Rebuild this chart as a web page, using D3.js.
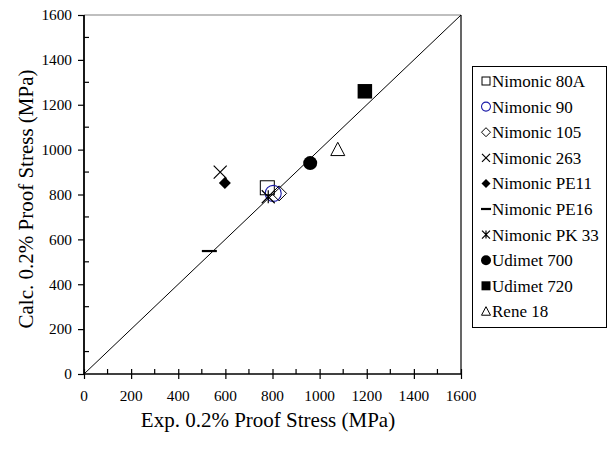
<!DOCTYPE html>
<html>
<head>
<meta charset="utf-8">
<script src="https://cdn.jsdelivr.net/npm/d3@7"></script>
<style>
  html, body { margin: 0; padding: 0; background: #fff; }
  svg { display: block; }
  text { font-family: "Liberation Serif", "Times New Roman", serif; fill: #000; }
</style>
</head>
<body>
<svg id="chart" width="608" height="452"></svg>
<script>
// ---- data ----
const seriesNames = ["Nimonic 80A", "Nimonic 90", "Nimonic 105", "Nimonic 263", "Nimonic PE11",
                     "Nimonic PE16", "Nimonic PK 33", "Udimet 700", "Udimet 720", "Rene 18"];
const expValues  = [778, 803, 828, 578, 598, 532, 782, 960, 1192, 1077];
const calcValues = [830, 805, 805, 900, 851, 548, 790, 940, 1260, 1000];
const markerTypes = ["openSquare", "blueCircle", "openDiamond", "cross", "filledDiamond",
                     "dash", "asterisk", "filledCircle", "filledSquare", "openTriangle"];
const axisTicks = [0, 200, 400, 600, 800, 1000, 1200, 1400, 1600];
const minorTicks = [100, 300, 500, 700, 900, 1100, 1300, 1500];
const diagonal = [[0, 0], [1600, 1600]];

// ---- layout ----
const FONT = "Liberation Serif, Times New Roman, serif";
const svg = d3.select("#chart");
const pL = 84, pR = 461, pT = 15, pB = 374;
const x = d3.scaleLinear().domain([0, 1600]).range([pL, pR]);
const y = d3.scaleLinear().domain([0, 1600]).range([pB, pT]);

// frame: top (gray) and right
svg.append("line").attr("x1", pL).attr("x2", pR).attr("y1", pT).attr("y2", pT)
  .attr("stroke", "#808080").attr("stroke-width", 1.2);
svg.append("line").attr("x1", pR).attr("x2", pR).attr("y1", pT).attr("y2", pB)
  .attr("stroke", "#000").attr("stroke-width", 1.2);

// diagonal
svg.append("path").datum(diagonal)
  .attr("d", d3.line().x(d => x(d[0])).y(d => y(d[1])))
  .attr("stroke", "#000").attr("stroke-width", 1).attr("fill", "none");

// x axis: major ticks cross, minor up
const gx = svg.append("g").attr("transform", `translate(0,${pB})`);
gx.call(d3.axisBottom(x).tickValues(axisTicks).tickSize(5).tickFormat(""));
gx.call(g => g.selectAll(".tick line").attr("y1", -5).attr("y2", 5).attr("stroke-width", 1.2));
gx.append("g").selectAll("line").data(minorTicks).join("line")
  .attr("x1", d => x(d)).attr("x2", d => x(d)).attr("y1", 0).attr("y2", -5)
  .attr("stroke", "#000").attr("stroke-width", 1.2);
gx.select(".domain").attr("d", `M${pL},0H${pR}`).attr("stroke-width", 1.6);
gx.selectAll(".tickLbl").data(axisTicks).join("text")
  .attr("x", d => x(d)).attr("y", 27).attr("text-anchor", "middle")
  .attr("font-family", FONT).attr("font-size", "15.3px").text(d => d);

// y axis: major ticks out, minor in
const gy = svg.append("g").attr("transform", `translate(${pL},0)`);
gy.call(d3.axisLeft(y).tickValues(axisTicks).tickSize(6).tickFormat(""));
gy.call(g => g.selectAll(".tick line").attr("stroke-width", 1.2));
gy.append("g").selectAll("line").data(minorTicks).join("line")
  .attr("x1", 0).attr("x2", 5).attr("y1", d => y(d)).attr("y2", d => y(d))
  .attr("stroke", "#000").attr("stroke-width", 1.2);
gy.select(".domain").attr("d", `M0,${pB}V${pT}`).attr("stroke-width", 1.8);
gy.selectAll(".tickLbl").data(axisTicks).join("text")
  .attr("x", -12).attr("y", d => y(d)).attr("dy", "0.35em").attr("text-anchor", "end")
  .attr("font-family", FONT).attr("font-size", "15.3px").text(d => d);

// axis titles
svg.append("text").attr("x", 268).attr("y", 427).attr("text-anchor", "middle")
  .attr("font-family", FONT).attr("font-size", "21px").text("Exp. 0.2% Proof Stress (MPa)");
svg.append("text").attr("transform", `translate(33,199) rotate(-90)`)
  .attr("text-anchor", "middle").attr("font-family", FONT).attr("font-size", "21px")
  .text("Calc. 0.2% Proof Stress (MPa)");

// ---- markers ----
function drawMarker(g, type, s) {
  const h = s / 2;
  switch (type) {
    case "openSquare":
      g.append("rect").attr("x", -h).attr("y", -h).attr("width", s).attr("height", s)
        .attr("fill", "none").attr("stroke", "#000").attr("stroke-width", 1); break;
    case "filledSquare":
      g.append("rect").attr("x", -h).attr("y", -h).attr("width", s).attr("height", s)
        .attr("fill", "#000"); break;
    case "blueCircle":
      g.append("circle").attr("r", h).attr("fill", "none").attr("stroke", "#1c1ca8").attr("stroke-width", 1.1); break;
    case "filledCircle":
      g.append("circle").attr("r", h).attr("fill", "#000"); break;
    case "openDiamond":
      g.append("path").attr("d", `M0,${-h}L${h},0L0,${h}L${-h},0Z`)
        .attr("fill", "none").attr("stroke", "#000").attr("stroke-width", 1); break;
    case "filledDiamond":
      g.append("path").attr("d", `M0,${-h}L${h},0L0,${h}L${-h},0Z`).attr("fill", "#000"); break;
    case "cross":
      g.append("path").attr("d", `M${-h},${-h}L${h},${h}M${h},${-h}L${-h},${h}`)
        .attr("stroke", "#000").attr("stroke-width", 1.2); break;
    case "asterisk":
      g.append("path").attr("d", `M${-h},${-h}L${h},${h}M${h},${-h}L${-h},${h}M0,${-h}L0,${h}`)
        .attr("stroke", "#000").attr("stroke-width", 1.2); break;
    case "dash":
      g.append("line").attr("x1", -h).attr("x2", h).attr("stroke", "#000").attr("stroke-width", 2.2); break;
    case "openTriangle":
      g.append("path").attr("d", `M0,${-h * 1.05}L${h},${h * 0.85}L${-h},${h * 0.85}Z`)
        .attr("fill", "none").attr("stroke", "#000").attr("stroke-width", 1); break;
  }
}

const sizes = { openSquare: 14, filledSquare: 14.5, blueCircle: 16, filledCircle: 14, openDiamond: 15,
                filledDiamond: 12, cross: 13, asterisk: 13, dash: 15, openTriangle: 14 };

const pts = svg.append("g");
seriesNames.forEach((name, i) => {
  const g = pts.append("g").attr("transform", `translate(${x(expValues[i])},${y(calcValues[i])})`);
  drawMarker(g, markerTypes[i], sizes[markerTypes[i]]);
});

// ---- legend ----
const legX = 472, legY = 66, legW = 134, legH = 261, rowH = 25.6;
svg.append("rect").attr("x", legX + 0.5).attr("y", legY + 0.5).attr("width", legW).attr("height", legH)
  .attr("fill", "#fff").attr("stroke", "#000").attr("stroke-width", 1);
const legSizes = { openSquare: 8, filledSquare: 9, blueCircle: 9, filledCircle: 10, openDiamond: 9,
                   filledDiamond: 9, cross: 8, asterisk: 8, dash: 10, openTriangle: 9 };
seriesNames.forEach((name, i) => {
  const cy = 81 + i * rowH;
  const g = svg.append("g").attr("transform", `translate(486,${cy})`);
  drawMarker(g, markerTypes[i], legSizes[markerTypes[i]]);
  svg.append("text").attr("x", 492).attr("y", cy).attr("dy", "0.35em")
    .attr("font-family", FONT).attr("font-size", "17px").text(name);
});
</script>
</body>
</html>
